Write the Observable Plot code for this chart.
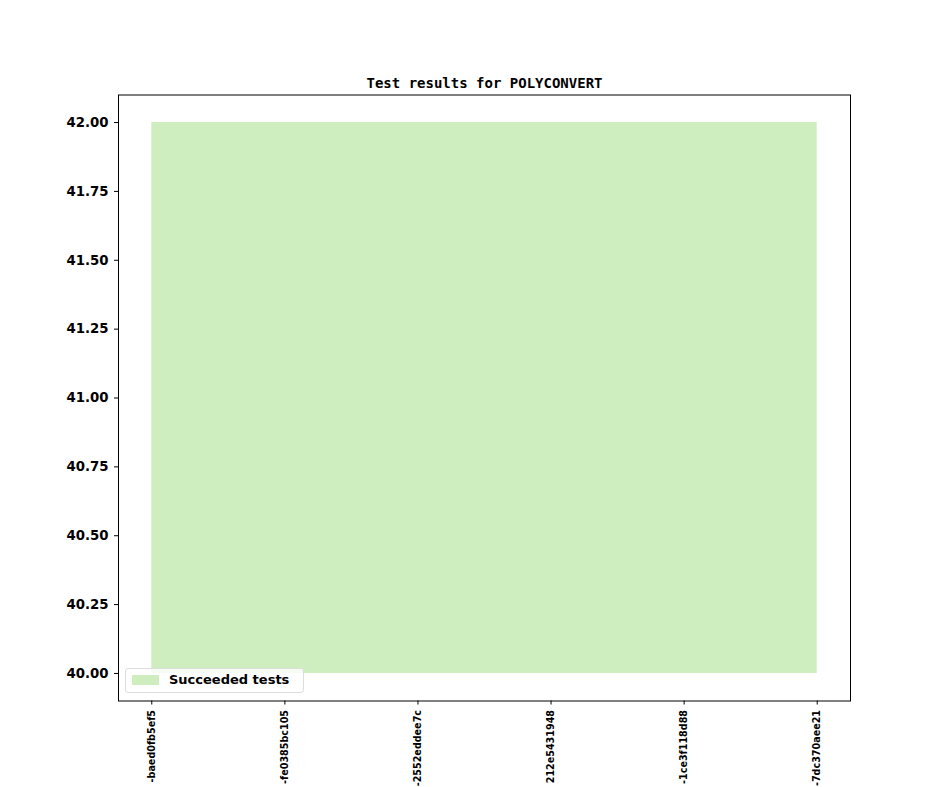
<!DOCTYPE html>
<html>
<head>
<meta charset="utf-8">
<script src="https://cdn.jsdelivr.net/npm/d3@7"></script>
<script src="https://cdn.jsdelivr.net/npm/@observablehq/plot@0.6"></script>
<style>
  html, body { margin: 0; padding: 0; background: white; overflow: hidden; }
  #wrap { position: relative; width: 944px; height: 787px; }
  #legend { position: absolute; left: 125px; top: 668px; width: 179px; height: 25px;
    border: 1px solid #dddddd; border-radius: 3px; background: rgba(255,255,255,0.8);
    font-family: "DejaVu Sans", sans-serif; font-weight: bold; font-size: 13px;
    box-sizing: border-box; }
  #legend .sw { position: absolute; left: 6px; top: 6px; width: 27px; height: 10px; background: #cfeebf; }
  #legend .lb { position: absolute; left: 43px; top: 3px; white-space: nowrap; }
</style>
</head>
<body>
<div id="wrap"></div>
<script>
const title = "Test results for POLYCONVERT";
const commits = ["-baed0fb5ef5", "-fe0385bc105", "-2552eddee7c", "212e5431948", "-1ce3f118d88", "-7dc370aee21"];
const succeeded = [42, 42, 42, 42, 42, 42];
const baseline = [40, 40, 40, 40, 40, 40];
const yTicks = [40, 40.25, 40.5, 40.75, 41, 41.25, 41.5, 41.75, 42];
const seriesName = "Succeeded tests";
const fillColor = "#cfeebf";

const data = commits.map((c, i) => ({i, commit: c, y1: baseline[i], y2: succeeded[i]}));

const chart = Plot.plot({
  width: 944,
  height: 787,
  marginLeft: 118,
  marginRight: 94,
  marginTop: 94.5,
  marginBottom: 86.5,
  style: {fontFamily: "DejaVu Sans, sans-serif", background: "white", overflow: "visible"},
  x: {type: "linear", domain: [-0.25, commits.length - 0.75]},
  y: {domain: [39.9, 42.1]},
  marks: [
    Plot.areaY(data, {x: "i", y1: "y1", y2: "y2", fill: fillColor, curve: "linear"}),
    Plot.frame({stroke: "black", strokeWidth: 1}),
    Plot.axisY({ticks: yTicks, tickFormat: d3.format(".2f"), tickSize: 4, tickPadding: 6,
      fontSize: 13.3, fontWeight: "bold", label: null, stroke: "black", color: "black"}),
    Plot.axisX({ticks: commits.map((c, i) => i), tickFormat: i => commits[i], tickSize: 4,
      tickPadding: 5, tickRotate: -90, fontSize: 9.6, fontWeight: "bold", label: null, color: "black"}),
    Plot.text([title], {frameAnchor: "top", dy: -17, fontFamily: "DejaVu Sans Mono, monospace",
      fontWeight: "bold", fontSize: 14, fill: "black"})
  ]
});

const wrap = document.getElementById("wrap");
wrap.appendChild(chart);
const legend = document.createElement("div");
legend.id = "legend";
legend.innerHTML = `<div class="sw"></div><div class="lb">${seriesName}</div>`;
wrap.appendChild(legend);
</script>
</body>
</html>
